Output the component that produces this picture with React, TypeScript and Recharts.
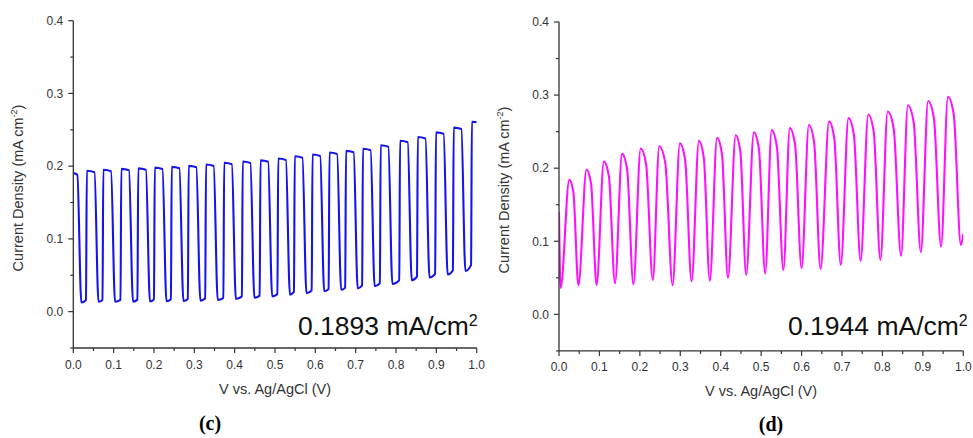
import React from 'react';
import { LineChart, Line, XAxis, YAxis } from 'recharts';

// ---------- tick values / labels ----------
const xMajorTicks = [0, 0.1, 0.2, 0.3, 0.4, 0.5, 0.6, 0.7, 0.8, 0.9, 1.0];
const xTickLabels = ['0.0', '0.1', '0.2', '0.3', '0.4', '0.5', '0.6', '0.7', '0.8', '0.9', '1.0'];
const xMinorTicks = [0.05, 0.15, 0.25, 0.35, 0.45, 0.55, 0.65, 0.75, 0.85, 0.95];
const yMajorTicks = [0, 0.1, 0.2, 0.3, 0.4];
const yTickLabels = ['0.0', '0.1', '0.2', '0.3', '0.4'];
const yMinorTicks = [-0.05, 0.05, 0.15, 0.25, 0.35];

// ---------- panel (c): blue chopped photocurrent ----------
const blueStart = 0.1905;
const blueInitialTop = 0.19;
const blueFallV = [0.010, 0.0525, 0.0935, 0.138, 0.180, 0.221, 0.263, 0.305, 0.348, 0.393, 0.439, 0.483, 0.527, 0.568, 0.612, 0.654, 0.695, 0.737, 0.781, 0.829, 0.873, 0.918, 0.962];
const blueTroughV = [0.020, 0.0625, 0.1035, 0.148, 0.190, 0.231, 0.273, 0.315, 0.358, 0.403, 0.449, 0.493, 0.537, 0.578, 0.622, 0.664, 0.705, 0.747, 0.791, 0.839, 0.883, 0.928, 0.972];
const blueTrough = [0.0125, 0.0135, 0.0135, 0.0138, 0.014, 0.0142, 0.0146, 0.0152, 0.016, 0.0175, 0.019, 0.021, 0.0233, 0.0255, 0.028, 0.030, 0.032, 0.035, 0.038, 0.043, 0.047, 0.051, 0.056];
const bluePreRise = [0.016, 0.016, 0.016, 0.0165, 0.017, 0.017, 0.0175, 0.018, 0.019, 0.021, 0.022, 0.024, 0.027, 0.029, 0.031, 0.033, 0.036, 0.039, 0.043, 0.048, 0.052, 0.057, 0.064];
const blueRiseV = [0.0315, 0.0724, 0.117, 0.159, 0.200, 0.242, 0.284, 0.327, 0.372, 0.418, 0.462, 0.506, 0.547, 0.591, 0.633, 0.674, 0.716, 0.760, 0.808, 0.852, 0.897, 0.941, 0.986];
const blueTop = [0.1936, 0.195, 0.1963, 0.197, 0.198, 0.199, 0.2004, 0.2023, 0.2046, 0.2064, 0.208, 0.2105, 0.2137, 0.216, 0.2187, 0.221, 0.224, 0.2288, 0.235, 0.240, 0.2465, 0.253, 0.261];
const blueEnd = 0.2605;

// ---------- panel (d): magenta chopped photocurrent ----------
const magStart = 0.14;
const magTroughV = [0.004, 0.048, 0.093, 0.1385, 0.184, 0.232, 0.281, 0.328, 0.373, 0.418, 0.463, 0.510, 0.555, 0.600, 0.647, 0.697, 0.746, 0.795, 0.846, 0.895, 0.945, 0.994];
const magTrough = [0.036, 0.040, 0.040, 0.0425, 0.041, 0.047, 0.040, 0.045, 0.046, 0.050, 0.054, 0.056, 0.0607, 0.063, 0.062, 0.0675, 0.073, 0.0745, 0.080, 0.085, 0.0926, 0.095];
const magPeakV = [0.0255, 0.068, 0.111, 0.156, 0.202, 0.248, 0.299, 0.346, 0.391, 0.437, 0.482, 0.526, 0.571, 0.618, 0.668, 0.716, 0.765, 0.813, 0.863, 0.913, 0.962];
const magPeak = [0.184, 0.198, 0.209, 0.2196, 0.227, 0.230, 0.234, 0.2374, 0.2415, 0.245, 0.249, 0.252, 0.2548, 0.259, 0.264, 0.2685, 0.2735, 0.2776, 0.286, 0.292, 0.2975];
const magShoulderV = [0.0356, 0.0793, 0.1234, 0.1686, 0.2155, 0.2629, 0.312, 0.3582, 0.4032, 0.4487, 0.4946, 0.539, 0.584, 0.631, 0.681, 0.7295, 0.7785, 0.8279, 0.8774, 0.9274, 0.9764];
const magShoulder = [0.167, 0.179, 0.189, 0.198, 0.205, 0.207, 0.211, 0.214, 0.2185, 0.222, 0.226, 0.229, 0.2318, 0.2354, 0.2404, 0.245, 0.2496, 0.254, 0.262, 0.268, 0.2732];
const magEnd = 0.11;

// ---------- build series tables ----------
const EDGE = 0.002;
const bluePoints: { v: number; i: number }[] = [{ v: 0, i: blueStart }];
for (let k = 0; k < blueRiseV.length; k++) {
  const prevTop = k === 0 ? blueInitialTop : blueTop[k - 1];
  bluePoints.push({ v: blueFallV[k], i: prevTop - 0.002 });
  bluePoints.push({ v: blueTroughV[k], i: blueTrough[k] });
  bluePoints.push({ v: blueRiseV[k], i: bluePreRise[k] });
  bluePoints.push({ v: blueRiseV[k] + EDGE, i: blueTop[k] });
}
bluePoints.push({ v: 1.0, i: blueEnd });

const magPoints: { v: number; i: number }[] = [{ v: 0, i: magStart }];
for (let k = 0; k < magTroughV.length; k++) {
  magPoints.push({ v: magTroughV[k], i: magTrough[k] });
  if (k < magPeakV.length) {
    magPoints.push({ v: magPeakV[k], i: magPeak[k] });
    magPoints.push({ v: magShoulderV[k], i: magShoulder[k] });
  }
}
magPoints.push({ v: 1.0, i: magEnd });

// ---------- styling ----------
const AXIS = '#333333';
const SANS = '"Liberation Sans", Arial, Helvetica, sans-serif';
const SERIF = '"Liberation Serif", "Times New Roman", serif';

const xAllTicks = [...xMajorTicks, ...xMinorTicks].sort((a, b) => a - b);
const yAllTicks = [...yMajorTicks, ...yMinorTicks].sort((a, b) => a - b);

function labelFor(v: number, majors: number[], labels: string[]) {
  const idx = majors.findIndex((m) => Math.abs(m - v) < 1e-6);
  return idx >= 0 ? labels[idx] : null;
}

const XTick = (props: any) => {
  const { x, y, payload } = props;
  const label = labelFor(payload.value, xMajorTicks, xTickLabels);
  return (
    <g>
      <line x1={x} x2={x} y1={y} y2={y + (label ? 5 : 3)} stroke={AXIS} strokeWidth={1.2} />
      {label && (
        <text x={x} y={y + 20.5} textAnchor="middle" fontSize={12} fontFamily={SANS} fill="#333">
          {label}
        </text>
      )}
    </g>
  );
};

const YTick = (props: any) => {
  const { x, y, payload } = props;
  const label = labelFor(payload.value, yMajorTicks, yTickLabels);
  return (
    <g>
      <line x1={x - (label ? 5 : 3)} x2={x} y1={y} y2={y} stroke={AXIS} strokeWidth={1.2} />
      {label && (
        <text x={x - 10} y={y + 4.3} textAnchor="end" fontSize={12} fontFamily={SANS} fill="#333">
          {label}
        </text>
      )}
    </g>
  );
};

type PanelProps = {
  data: { v: number; i: number }[];
  color: string;
  left: number;
  width: number;
  margin: { top: number; right: number; bottom: number; left: number };
};

const Panel = ({ data, color, left, width, margin }: PanelProps) => (
  <div style={{ position: 'absolute', left, top: 0 }}>
    <LineChart width={width} height={438} data={data} margin={margin}>
      <XAxis
        dataKey="v"
        type="number"
        domain={[0, 1]}
        ticks={xAllTicks}
        interval={0}
        tick={<XTick />}
        tickLine={false}
        tickSize={0}
        tickMargin={0}
        axisLine={{ stroke: AXIS, strokeWidth: 1.3 }}
        height={30}
        allowDataOverflow
      />
      <YAxis
        type="number"
        domain={[-0.05, 0.4]}
        ticks={yAllTicks}
        interval={0}
        tick={<YTick />}
        tickLine={false}
        tickSize={0}
        tickMargin={0}
        axisLine={{ stroke: AXIS, strokeWidth: 1.3 }}
        width={60}
        allowDataOverflow
      />
      <Line
        type="monotoneX"
        dataKey="i"
        stroke={color}
        strokeWidth={2.1}
        dot={false}
        activeDot={false}
        isAnimationActive={false}
      />
    </LineChart>
  </div>
);

export default function App() {
  return (
    <div style={{ position: 'absolute', left: 0, top: 0, width: 973, height: 438, background: '#fff', overflow: 'hidden' }}>
      <Panel
        data={bluePoints}
        color="#1414ee"
        left={0}
        width={490}
        margin={{ top: 20.7, right: 13.3, bottom: 60, left: 13.3 }}
      />
      <Panel
        data={magPoints}
        color="#ff10ff"
        left={490}
        width={483}
        margin={{ top: 22, right: 9.7, bottom: 57.1, left: 9 }}
      />
      <svg width={973} height={438} style={{ position: 'absolute', left: 0, top: 0, pointerEvents: 'none' }}>
        {/* y axis titles */}
        <text transform="translate(22.5,188) rotate(-90)" textAnchor="middle" fontSize={14.5} fontFamily={SANS} fill="#333">
          Current Density (mA cm<tspan dy={-6} fontSize={9}>-2</tspan><tspan dy={6}>)</tspan>
        </text>
        <text transform="translate(509,190) rotate(-90)" textAnchor="middle" fontSize={14.5} fontFamily={SANS} fill="#333">
          Current Density (mA cm<tspan dy={-6} fontSize={9}>-2</tspan><tspan dy={6}>)</tspan>
        </text>
        {/* x axis titles */}
        <text x={275} y={394} textAnchor="middle" fontSize={14.5} fontFamily={SANS} fill="#333">
          V vs. Ag/AgCl (V)
        </text>
        <text x={761} y={396} textAnchor="middle" fontSize={14.5} fontFamily={SANS} fill="#333">
          V vs. Ag/AgCl (V)
        </text>
        {/* annotations */}
        <text x={298} y={334.5} fontSize={26.5} fontFamily={SANS} fill="#111">
          0.1893 mA/cm<tspan dy={-9} fontSize={16}>2</tspan>
        </text>
        <text x={788} y={334.5} fontSize={26.5} fontFamily={SANS} fill="#111">
          0.1944 mA/cm<tspan dy={-9} fontSize={16}>2</tspan>
        </text>
        {/* panel letters */}
        <text x={210} y={430} textAnchor="middle" fontSize={20} fontWeight="bold" fontFamily={SERIF} fill="#000">
          (c)
        </text>
        <text x={771} y={431} textAnchor="middle" fontSize={20} fontWeight="bold" fontFamily={SERIF} fill="#000">
          (d)
        </text>
      </svg>
    </div>
  );
}
